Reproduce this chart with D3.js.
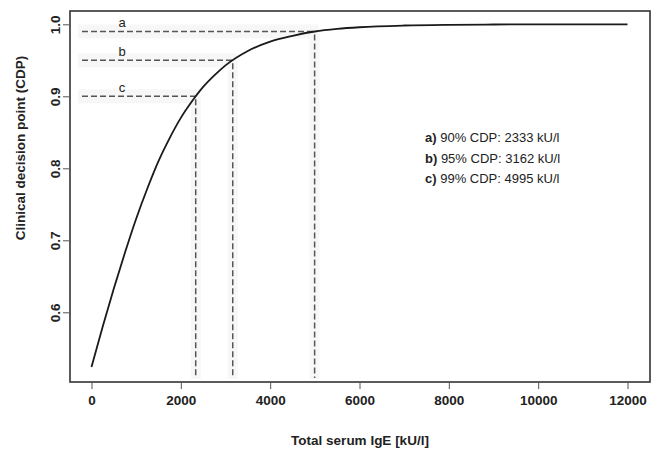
<!DOCTYPE html>
<html>
<head>
<meta charset="utf-8">
<script src="https://cdn.jsdelivr.net/npm/d3@7"></script>
<style>
  html, body { margin: 0; padding: 0; background: #fff; }
  svg { display: block; }
  text { font-family: "Liberation Sans", Arial, sans-serif; fill: #222; }
</style>
</head>
<body>
<svg id="chart" width="657" height="449"></svg>
<script>
// ---- data ----
const curveIgE = [0, 250, 500, 750, 1000, 1250, 1500, 1750, 2000, 2250, 2500, 2750, 3000, 3500, 4000, 4500, 5000, 5500, 6000, 7000, 8000, 9000, 10000, 11000, 12000];
const curveCDP = [0.524, 0.580, 0.633, 0.683, 0.730, 0.772, 0.810, 0.842, 0.870, 0.893, 0.913, 0.929, 0.943, 0.963, 0.976, 0.984, 0.990, 0.9936, 0.9959, 0.9983, 0.9993, 0.9997, 0.9999, 1.0, 1.0];
const refLabels = ["a", "b", "c"];
const refCDP = [0.99, 0.95, 0.90];
const refIgE = [4995, 3162, 2333];
const legendKeys = ["a)", "b)", "c)"];
const legendTexts = [" 90% CDP: 2333 kU/l", " 95% CDP: 3162 kU/l", " 99% CDP: 4995 kU/l"];
const xTicks = [0, 2000, 4000, 6000, 8000, 10000, 12000];
const yTicks = [0.6, 0.7, 0.8, 0.9, 1.0];
const xTitle = "Total serum IgE [kU/l]";
const yTitle = "Clinical decision point (CDP)";

// ---- layout ----
const box = { left: 70, top: 11, right: 650, bottom: 382 };
const svg = d3.select("#chart");

const x = d3.scaleLinear().domain([0, 12000]).range([91.5, 627.5]);
const y = d3.scaleLinear().domain([0.6, 1.0]).range([312.3, 24.3]);

// faint shaded bands behind reference lines
const bands = svg.append("g").attr("fill", "#f3f3f3").attr("opacity", 0.6);
refCDP.forEach((p, i) => {
  bands.append("rect")
    .attr("x", 78).attr("y", y(p) - 7)
    .attr("width", x(refIgE[i]) - 78 + 4).attr("height", 14);
  bands.append("rect")
    .attr("x", x(refIgE[i]) - 5).attr("y", y(p))
    .attr("width", 10).attr("height", box.bottom - 3 - y(p));
});

// reference dashed lines
const refs = svg.append("g")
  .attr("stroke", "#555").attr("stroke-width", 1.5)
  .attr("stroke-dasharray", "6,3").attr("fill", "none");
refCDP.forEach((p, i) => {
  refs.append("line")
    .attr("x1", 82).attr("x2", x(refIgE[i]))
    .attr("y1", y(p)).attr("y2", y(p));
  refs.append("line")
    .attr("x1", x(refIgE[i])).attr("x2", x(refIgE[i]))
    .attr("y1", y(p) + 3).attr("y2", box.bottom - 4);
  svg.append("text")
    .attr("x", 122).attr("y", y(p) - 4.5)
    .attr("text-anchor", "middle")
    .attr("font-size", 13)
    .text(refLabels[i]);
});

// curve
const line = d3.line()
  .x((d, i) => x(curveIgE[i]))
  .y(d => y(d))
  .curve(d3.curveMonotoneX);
svg.append("path")
  .datum(curveCDP)
  .attr("d", line)
  .attr("fill", "none")
  .attr("stroke", "#1a1a1a")
  .attr("stroke-width", 1.8);

// box
svg.append("rect")
  .attr("x", box.left).attr("y", box.top)
  .attr("width", box.right - box.left).attr("height", box.bottom - box.top)
  .attr("fill", "none").attr("stroke", "#333").attr("stroke-width", 1.6);

// x axis
const xAxis = d3.axisBottom(x).tickValues(xTicks).tickSize(7).tickPadding(6)
  .tickFormat(d3.format("d"));
const gx = svg.append("g").attr("transform", `translate(0,${box.bottom})`).call(xAxis);
gx.select(".domain").remove();
gx.selectAll(".tick line").attr("stroke", "#555");
gx.selectAll(".tick text")
  .attr("font-size", 13.5).attr("font-weight", "bold")
  .attr("font-family", "'Liberation Sans', Arial, sans-serif").attr("fill", "#222");

// y axis
const yAxis = d3.axisLeft(y).tickValues(yTicks).tickSize(7).tickFormat(d3.format(".1f"));
const gy = svg.append("g").attr("transform", `translate(${box.left},0)`).call(yAxis);
gy.select(".domain").remove();
gy.selectAll(".tick line").attr("stroke", "#555");
gy.selectAll(".tick text")
  .attr("font-size", 13.5).attr("font-weight", "bold")
  .attr("font-family", "'Liberation Sans', Arial, sans-serif").attr("fill", "#222")
  .attr("x", null).attr("dy", null)
  .attr("text-anchor", "middle")
  .attr("transform", "translate(-10,0) rotate(-90)");

// axis titles
svg.append("text")
  .attr("x", 360).attr("y", 445)
  .attr("text-anchor", "middle")
  .attr("font-size", 13.5).attr("font-weight", "bold")
  .text(xTitle);
svg.append("text")
  .attr("transform", "translate(25,148) rotate(-90)")
  .attr("text-anchor", "middle")
  .attr("font-size", 13.5).attr("font-weight", "bold")
  .text(yTitle);

// legend
const legendY = [142, 162.5, 183];
legendKeys.forEach((k, i) => {
  const t = svg.append("text")
    .attr("x", 425).attr("y", legendY[i])
    .attr("font-size", 13);
  t.append("tspan").attr("font-weight", "bold").text(k);
  t.append("tspan").text(legendTexts[i]);
});
</script>
</body>
</html>
